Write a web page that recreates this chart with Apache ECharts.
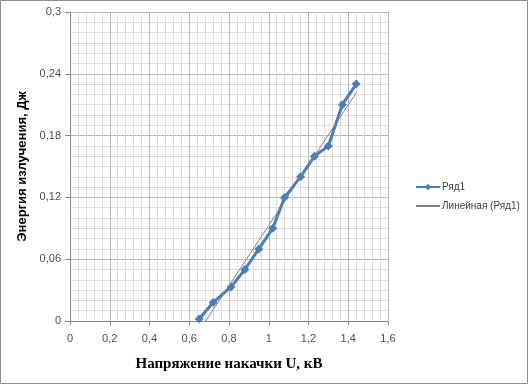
<!DOCTYPE html>
<html><head><meta charset="utf-8">
<script src="https://cdn.jsdelivr.net/npm/echarts@6/dist/echarts.min.js"></script>
<style>html,body{margin:0;padding:0;background:#fff}#c{width:528px;height:384px}</style>
</head><body><div id="c"></div>
<script>
var voltage = [0.65, 0.72, 0.81, 0.88, 0.95, 1.02, 1.08, 1.16, 1.23, 1.30, 1.37, 1.44];
var energy = [0.002, 0.018, 0.033, 0.05, 0.07, 0.09, 0.12, 0.14, 0.16, 0.17, 0.21, 0.23];
var xTicks = [0, 0.2, 0.4, 0.6, 0.8, 1, 1.2, 1.4, 1.6];
var yTicks = [0, 0.06, 0.12, 0.18, 0.24, 0.3];
var seriesName = 'Ряд1';
var trendName = 'Линейная (Ряд1)';

// least-squares linear trendline over the data range
var n = voltage.length, sx = 0, sy = 0, sxx = 0, sxy = 0;
for (var i = 0; i < n; i++) { sx += voltage[i]; sy += energy[i]; sxx += voltage[i]*voltage[i]; sxy += voltage[i]*energy[i]; }
var slope = (n*sxy - sx*sy) / (n*sxx - sx*sx);
var icpt = (sy - slope*sx) / n;
var x0 = voltage[0], x1 = voltage[n-1];
var trend = [[x0, slope*x0+icpt], [x1, slope*x1+icpt]];

function fmt(v){ return String(+v.toFixed(2)).replace('.', ','); }

var chart = echarts.init(document.getElementById('c'));
chart.setOption({
  animation: false,
  backgroundColor: '#fff',
  graphic: [{type:'rect', shape:{x:0.5,y:0.5,width:527,height:383}, style:{fill:'none', stroke:'#8c8c8c', lineWidth:1}, silent:true}],
  grid: {left: 70, top: 12, right: 140, bottom: 63},
  legend: {
    orient: 'vertical', left: 410, top: 177, itemGap: 9, itemWidth: 24, itemHeight: 8,
    textStyle: {color: '#404040', fontSize: 10, fontFamily: 'Liberation Sans, Arial', padding: [0,0,0,-3]},
    data: [seriesName, {name: trendName, itemStyle: {color: 'rgba(0,0,0,0)', borderWidth: 0}}]
  },
  xAxis: {
    type: 'value', min: xTicks[0], max: xTicks[xTicks.length-1], interval: 0.2,
    axisLine: {show: true, lineStyle: {color: '#868686'}},
    axisTick: {show: true, length: 4, lineStyle: {color: '#868686'}},
    axisLabel: {formatter: fmt, color: '#4d4d4d', fontSize: 11, margin: 12, fontFamily: 'Liberation Sans, Arial'},
    splitLine: {show: true, lineStyle: {color: '#b8b8b8', width: 1}},
    minorTick: {show: false, splitNumber: 5},
    minorSplitLine: {show: true, lineStyle: {color: '#dcdcdc', width: 1}},
    name: 'Напряжение накачки U, кВ', nameLocation: 'middle', nameGap: 36,
    nameTextStyle: {fontFamily: 'Liberation Serif, Times New Roman, serif', fontWeight: 'bold', fontSize: 15, color: '#000'}
  },
  yAxis: {
    type: 'value', min: yTicks[0], max: yTicks[yTicks.length-1], interval: 0.06,
    axisLine: {show: true, lineStyle: {color: '#868686'}},
    axisTick: {show: true, length: 5, lineStyle: {color: '#868686'}},
    axisLabel: {formatter: fmt, color: '#4d4d4d', fontSize: 11, margin: 9, fontFamily: 'Liberation Sans, Arial'},
    splitLine: {show: true, lineStyle: {color: '#b8b8b8', width: 1}},
    minorTick: {show: false, splitNumber: 6},
    minorSplitLine: {show: true, lineStyle: {color: '#dcdcdc', width: 1}},
    name: 'Энергия излучения, Дж', nameLocation: 'middle', nameGap: 40, nameRotate: 90,
    nameTextStyle: {fontFamily: 'Liberation Sans, Arial', fontWeight: 'bold', fontSize: 13, color: '#000'}
  },
  series: [
    {
      name: seriesName, type: 'line', z: 3,
      data: voltage.map(function(v, i){ return [v, energy[i]]; }),
      symbol: 'diamond', symbolSize: 9,
      lineStyle: {color: '#4a7ebb', width: 3},
      itemStyle: {color: '#4a7ebb'}
    },
    {
      name: trendName, type: 'line', z: 4, clip: true,
      data: trend, symbol: 'none',
      lineStyle: {color: '#7f7f7f', width: 1},
      itemStyle: {color: '#7f7f7f'}
    }
  ]
});
</script></body></html>
